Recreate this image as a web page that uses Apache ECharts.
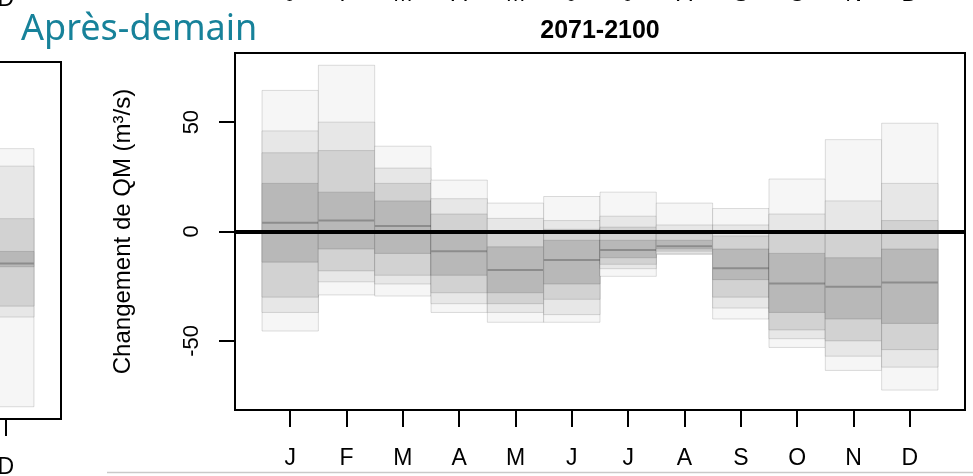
<!DOCTYPE html>
<html>
<head>
<meta charset="utf-8">
<script src="https://cdn.jsdelivr.net/npm/echarts@6/dist/echarts.min.js"></script>
<style>
  html, body { margin: 0; padding: 0; background: #fff; }
  #chart { width: 973px; height: 476px; }
</style>
</head>
<body>
<div id="chart"></div>
<script>
// ---- data ----
const months = ['J', 'F', 'M', 'A', 'M', 'J', 'J', 'A', 'S', 'O', 'N', 'D'];
const monthPos = [1, 2, 3, 4, 5, 6, 7, 8, 9, 10, 11, 12];
const yTicks = [-50, 0, 50];

// ensemble spread of monthly flow change (m3/s), 2071-2100
const qMax = [64.5, 76, 39, 23.5, 13, 16, 18, 13, 10.5, 24, 42, 49.5];
const q95  = [46, 50, 29, 15, 6, 5, 7, 3, 3, 8, 14, 22];
const q90  = [36, 37, 22, 8, 0, 1, 2, -1, -2, 0, 0, 5];
const q75  = [22, 18, 14, 0, -7, -4, -4, -4, -8, -10, -12, -8];
const q50  = [4, 5, 2.5, -9, -17.6, -13, -8.5, -6.7, -16.8, -23.8, -25.3, -23.3];
const q25  = [-14, -8, -10, -20, -28, -24, -12, -8, -22, -37, -40, -42];
const q10  = [-30, -18, -20, -28, -33, -31, -15, -9, -30, -45, -50, -54];
const q05  = [-37, -23, -24, -33, -37, -38, -17, -10, -35, -49, -57, -62];
const qMin = [-45.5, -29, -29.5, -37, -41.5, -41.5, -20.5, -10.5, -40, -53, -63.5, -72.5];

// neighbouring (cut-off) panel on the left: only its December bar is visible
const prevVisibleMonth = [12];
const prevDecQuantiles = [-76, -35, -30, -12, -10.5, -5, 10, 34, 42]; // min,q05,q10,q25,q50,q75,q90,q95,max

// ---- build ----
const FONT = 'Liberation Sans';
const mainData = monthPos.map((x, i) => [x, qMin[i], q05[i], q10[i], q25[i], q50[i], q75[i], q90[i], q95[i], qMax[i]]);
const prevData = prevVisibleMonth.map(x => [x].concat(prevDecQuantiles));

const fills = ['#f6f6f6', '#e7e7e7', '#d2d2d2', '#b8b8b8'];
const pairs = [[0, 8], [1, 7], [2, 6], [3, 5]];

function renderBox(params, api) {
  const x = api.value(0);
  const v = [];
  for (let i = 1; i <= 9; i++) v.push(api.value(i));
  const children = [];
  pairs.forEach(([lo, hi], k) => {
    const p1 = api.coord([x - 0.5, v[hi]]);
    const p2 = api.coord([x + 0.5, v[lo]]);
    children.push({
      type: 'rect',
      shape: { x: p1[0], y: p1[1], width: p2[0] - p1[0], height: p2[1] - p1[1] },
      style: { fill: fills[k], stroke: 'rgba(0,0,0,0.13)', lineWidth: 1 }
    });
  });
  const m1 = api.coord([x - 0.5, v[4]]);
  const m2 = api.coord([x + 0.5, v[4]]);
  children.push({
    type: 'line',
    shape: { x1: m1[0], y1: m1[1], x2: m2[0], y2: m2[1] },
    style: { stroke: '#8c8c8c', lineWidth: 2 }
  });
  return { type: 'group', children };
}

function monthAxis(gridIndex, showTick) {
  return {
    gridIndex, type: 'value', min: 0.02, max: 12.98, position: 'bottom',
    axisLine: { show: false, onZero: false }, splitLine: { show: false },
    axisTick: { show: showTick, inside: false, customValues: monthPos, length: 17, lineStyle: { color: '#000', width: 2 } },
    axisLabel: { customValues: monthPos, formatter: v => months[Math.round(v) - 1], margin: 37,
                 fontSize: 23, color: '#000', fontFamily: FONT }
  };
}

function hiddenY(gridIndex) {
  return { gridIndex, type: 'value', min: -81.6, max: 81.6, show: false };
}

const gridBase = { outerBoundsMode: 'none', containLabel: false };

const chart = echarts.init(document.getElementById('chart'), null, { renderer: 'canvas' });
chart.setOption({
  animation: false,
  backgroundColor: '#ffffff',
  grid: [
    Object.assign({ left: 235, top: 53, width: 730, height: 357, show: true, borderColor: '#000', borderWidth: 2, backgroundColor: 'transparent' }, gridBase),
    Object.assign({ left: -669, top: 62, width: 730, height: 357, show: true, borderColor: '#000', borderWidth: 2, backgroundColor: 'transparent' }, gridBase),
    Object.assign({ left: 235, top: -73.5, width: 730, height: 20, show: false }, gridBase),
    Object.assign({ left: -669, top: -68.5, width: 730, height: 20, show: false }, gridBase)
  ],
  xAxis: [monthAxis(0, true), monthAxis(1, true), monthAxis(2, false), monthAxis(3, false)],
  yAxis: [
    {
      gridIndex: 0, type: 'value', min: -81.6, max: 81.6,
      axisLine: { show: false }, splitLine: { show: false },
      axisTick: { show: true, customValues: yTicks, length: 16, lineStyle: { color: '#000', width: 2 } },
      axisLabel: { customValues: yTicks, rotate: 90, margin: 32, fontSize: 22, color: '#000', fontFamily: FONT },
      name: 'Changement de QM (m³/s)', nameLocation: 'middle', nameRotate: 90, nameGap: 100,
      nameTextStyle: { fontSize: 24, color: '#000', fontFamily: FONT }
    },
    hiddenY(1), hiddenY(2), hiddenY(3)
  ],
  series: [
    {
      type: 'custom', xAxisIndex: 0, yAxisIndex: 0, z: 2,
      renderItem: renderBox, data: mainData,
      encode: { x: 0, y: [1, 2, 3, 4, 5, 6, 7, 8, 9] },
      markLine: {
        silent: true, symbol: 'none', animation: false,
        lineStyle: { color: '#000', width: 4, type: 'solid' },
        label: { show: false },
        data: [{ yAxis: 0 }]
      }
    },
    {
      type: 'custom', xAxisIndex: 1, yAxisIndex: 1, z: 2,
      renderItem: renderBox, data: prevData,
      encode: { x: 0, y: [1, 2, 3, 4, 5, 6, 7, 8, 9] }
    }
  ],
  graphic: [
    { type: 'text', x: 21, y: 30, silent: true,
      style: { text: 'Après-demain', fill: '#17829a', fontSize: 36, fontFamily: 'Noto Sans', align: 'left', verticalAlign: 'middle' } },
    { type: 'text', x: 600, y: 31, silent: true,
      style: { text: '2071-2100', fill: '#000', fontSize: 25, fontWeight: 'bold', fontFamily: FONT, align: 'center', verticalAlign: 'middle' } },
    { type: 'line', silent: true, shape: { x1: 107, y1: 472.5, x2: 973, y2: 472.5 },
      style: { stroke: '#c9c9c9', lineWidth: 1.5 } }
  ]
});
</script>
</body>
</html>
